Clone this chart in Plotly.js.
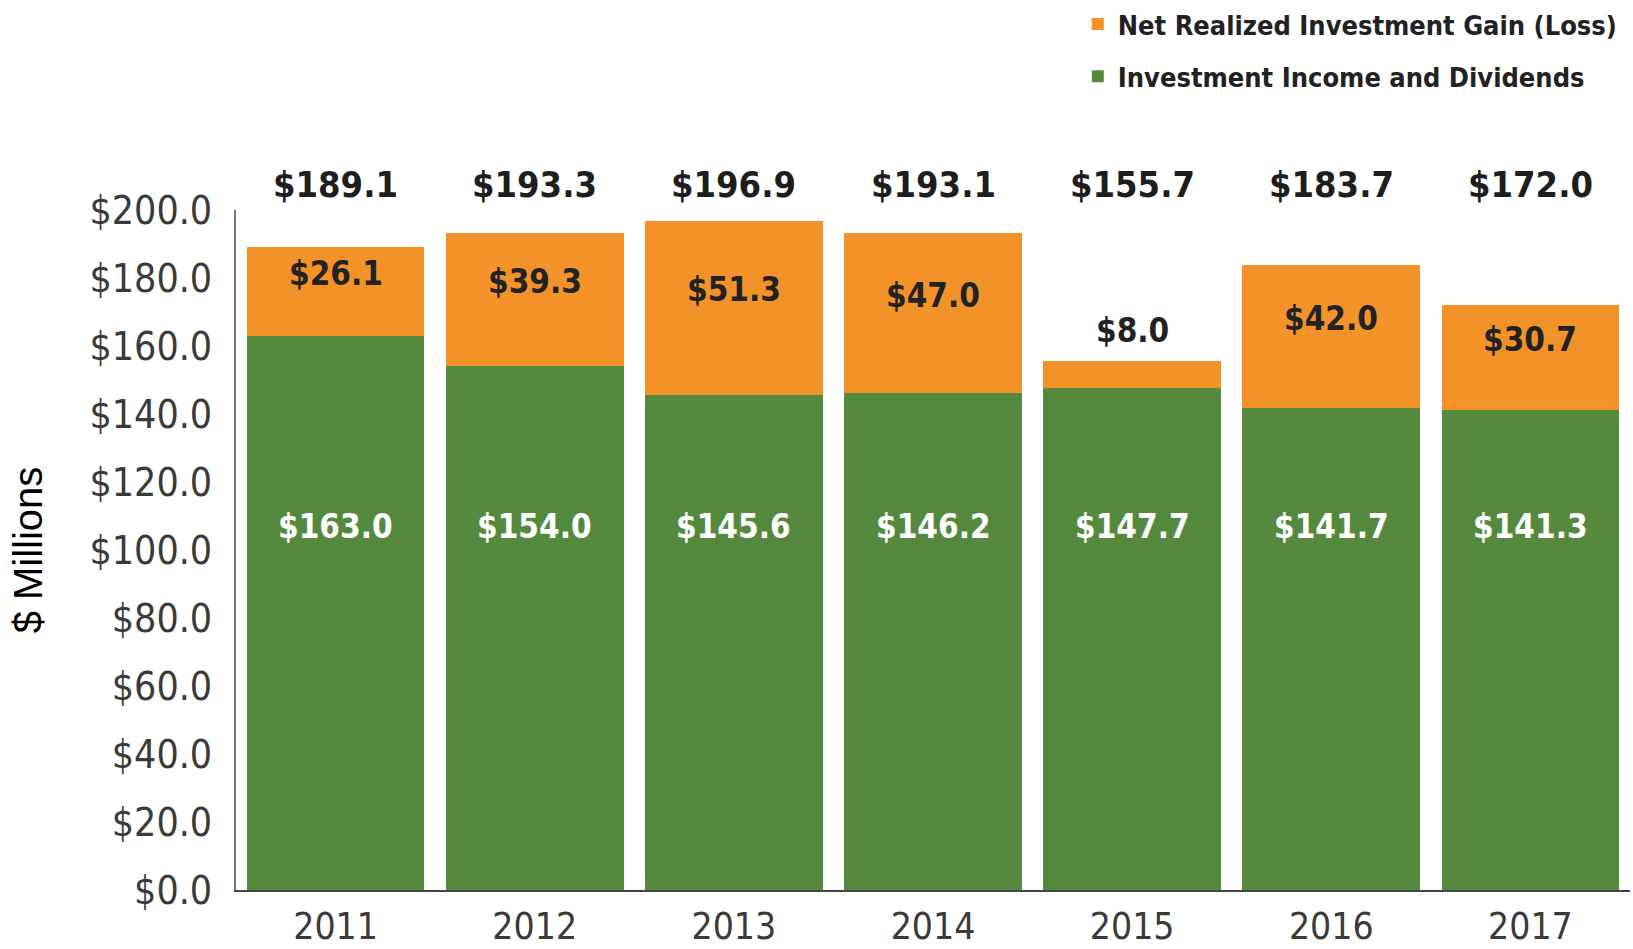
<!DOCTYPE html>
<html>
<head>
<meta charset="utf-8">
<script src="https://cdn.plot.ly/plotly-3.0.1.min.js"></script>
<style>html,body{margin:0;padding:0;background:#fff;}#chart{width:1633px;height:949px;}</style>
</head>
<body>
<div id="chart"></div>
<script>
const years = ['2011', '2012', '2013', '2014', '2015', '2016', '2017'];
const incomeDividends = [163.0, 154.0, 145.6, 146.2, 147.7, 141.7, 141.3];
const realizedGain = [26.1, 39.3, 51.3, 47.0, 8.0, 42.0, 30.7];
const totals = [189.1, 193.3, 196.9, 193.1, 155.7, 183.7, 172.0];
const yTickVals = [0, 20, 40, 60, 80, 100, 120, 140, 160, 180, 200];

const GREEN = '#558A3E';
const ORANGE = '#F4922A';
const FONT = '"DejaVu Sans Condensed", "DejaVu Sans", sans-serif';
const money = v => '$' + v.toFixed(1);

const traces = [
  {
    type: 'bar', name: 'Investment Income and Dividends', x: years, y: incomeDividends,
    marker: {color: GREEN}, legendgroup: 'a', legendrank: 2, hoverinfo: 'x+y'
  },
  {
    type: 'bar', name: 'Net Realized Investment Gain (Loss)', x: years, y: realizedGain,
    marker: {color: ORANGE}, legendgroup: 'b', legendrank: 1, hoverinfo: 'x+y'
  }
];

const annotations = [];
years.forEach((yr, i) => {
  annotations.push({
    x: i, y: 1.037, xref: 'x', yref: 'paper', text: money(totals[i]),
    showarrow: false, yanchor: 'middle', font: {family: FONT, size: 36, color: '#1e1e1e', weight: 'bold'}
  });
  annotations.push({
    x: i, y: 0.534, xref: 'x', yref: 'paper', text: money(incomeDividends[i]),
    showarrow: false, yanchor: 'middle', font: {family: FONT, size: 33, color: '#ffffff', weight: 'bold'}
  });
  const small = realizedGain[i] < 15;
  annotations.push({
    x: i, xref: 'x', yref: 'y',
    y: small ? incomeDividends[i] + realizedGain[i] : incomeDividends[i] + realizedGain[i] / 2,
    yshift: small ? 30 : 18,
    text: money(realizedGain[i]),
    showarrow: false, yanchor: 'middle', font: {family: FONT, size: 33, color: '#222222', weight: 'bold'}
  });
});

const layout = {
  width: 1633, height: 949,
  margin: {l: 236, r: 3, t: 210, b: 59, autoexpand: false},
  paper_bgcolor: '#ffffff', plot_bgcolor: '#ffffff',
  barmode: 'stack', bargap: 0.107,
  font: {family: FONT, color: '#3a3a3a'},
  xaxis: {
    type: 'category', range: [-0.5, 6.5], showgrid: false, zeroline: false,
    showline: true, linecolor: '#444444', linewidth: 2, ticks: '', ticklabelstandoff: 3,
    tickfont: {family: FONT, size: 37, color: '#3a3a3a'}, fixedrange: true, automargin: false
  },
  yaxis: {
    range: [0, 200], showgrid: false, zeroline: false,
    showline: true, linecolor: '#777777', linewidth: 2, ticks: '',
    tickvals: yTickVals, ticktext: yTickVals.map(money), ticklabelstandoff: 14,
    tickfont: {family: FONT, size: 39, color: '#3a3a3a'},
    title: {text: '$ Millions', font: {family: 'Liberation Sans, Arial, sans-serif', size: 40, color: '#000000'}, standoff: 34},
    fixedrange: true, automargin: false
  },
  showlegend: true,
  legend: {
    xref: 'container', yref: 'container',
    x: 0.66, xanchor: 'left', y: 1.0, yanchor: 'top', traceorder: 'grouped',
    tracegroupgap: 14, bgcolor: 'rgba(0,0,0,0)',
    font: {family: FONT, size: 27, color: '#222222', weight: 'bold'}
  },
  annotations: annotations
};

Plotly.newPlot('chart', traces, layout, {displayModeBar: false});
</script>
</body>
</html>
